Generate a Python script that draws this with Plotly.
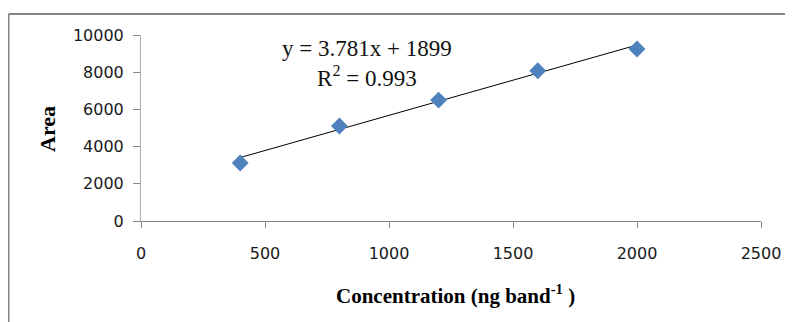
import plotly.graph_objects as go

# Data
concentration = [400, 800, 1200, 1600, 2000]
area = [3120, 5110, 6500, 8080, 9250]

# Trendline (as labelled on the chart)
slope = 3.781
intercept = 1899
r_squared = 0.993
trend_x = [400, 2000]
trend_y = [slope * x + intercept for x in trend_x]

x_ticks = [0, 500, 1000, 1500, 2000, 2500]
y_ticks = [0, 2000, 4000, 6000, 8000, 10000]

fig = go.Figure()
fig.add_trace(go.Scatter(
    x=trend_x, y=trend_y, mode="lines",
    line=dict(color="black", width=1), showlegend=False, hoverinfo="skip"))
fig.add_trace(go.Scatter(
    x=concentration, y=area, mode="markers",
    marker=dict(symbol="diamond", size=13, color="#4F81BD",
                line=dict(width=0)),
    showlegend=False))

tick_font = dict(family="DejaVu Sans", size=16, color="#1a1a1a")

# page body has an 8px margin, so the figure is 8px smaller than the window
fig.update_layout(
    width=785, height=314,
    margin=dict(l=133, r=32, t=27, b=101),
    paper_bgcolor="white", plot_bgcolor="white",
    xaxis=dict(range=[0, 2500], tickvals=x_ticks, ticktext=[str(v) for v in x_ticks],
               showgrid=False, zeroline=False, showline=True, linecolor="#888888",
               linewidth=1, ticks="outside", ticklen=6, tickcolor="#888888",
               tickfont=tick_font, ticklabelstandoff=12),
    yaxis=dict(range=[0, 10000], tickvals=y_ticks, ticktext=[str(v) for v in y_ticks],
               showgrid=False, zeroline=False, showline=True, linecolor="#b0b0b0",
               linewidth=1, ticks="outside", ticklen=7, tickcolor="#888888",
               tickfont=tick_font, ticklabelstandoff=6),
    font=dict(family="Liberation Serif"),
)

fig.add_annotation(
    xref="paper", yref="paper", x=(367 - 141) / 620, y=(221 - 63.5) / 186,
    xanchor="center", yanchor="middle",
    text=f"y = {slope}x + {intercept}<br>R<sup>2</sup> = {r_squared}",
    showarrow=False, align="center",
    font=dict(family="Liberation Serif", size=23, color="#111111"))

fig.add_annotation(
    xref="paper", yref="paper", x=(455 - 141) / 620, y=(221 - 294) / 186,
    xanchor="center", yanchor="middle",
    text="<b>Concentration (ng band<sup>-1</sup> )</b>",
    showarrow=False, font=dict(family="Liberation Serif", size=21, color="black"))

fig.add_annotation(
    xref="paper", yref="paper", x=(47 - 141) / 620, y=(221 - 129) / 186,
    xanchor="center", yanchor="middle",
    text="<b>Area</b>", textangle=-90,
    showarrow=False, font=dict(family="Liberation Serif", size=22, color="black"))

# outer chart border (top and left edges visible)
bx = (8.5 - 141) / 620
by = (221 - 14) / 186
fig.add_shape(type="line", xref="paper", yref="paper",
              x0=bx, x1=1.2, y0=by, y1=by,
              line=dict(color="#858585", width=2))
fig.add_shape(type="line", xref="paper", yref="paper",
              x0=bx, x1=bx, y0=by, y1=-0.7,
              line=dict(color="#858585", width=2))

fig.write_html("out.html")
